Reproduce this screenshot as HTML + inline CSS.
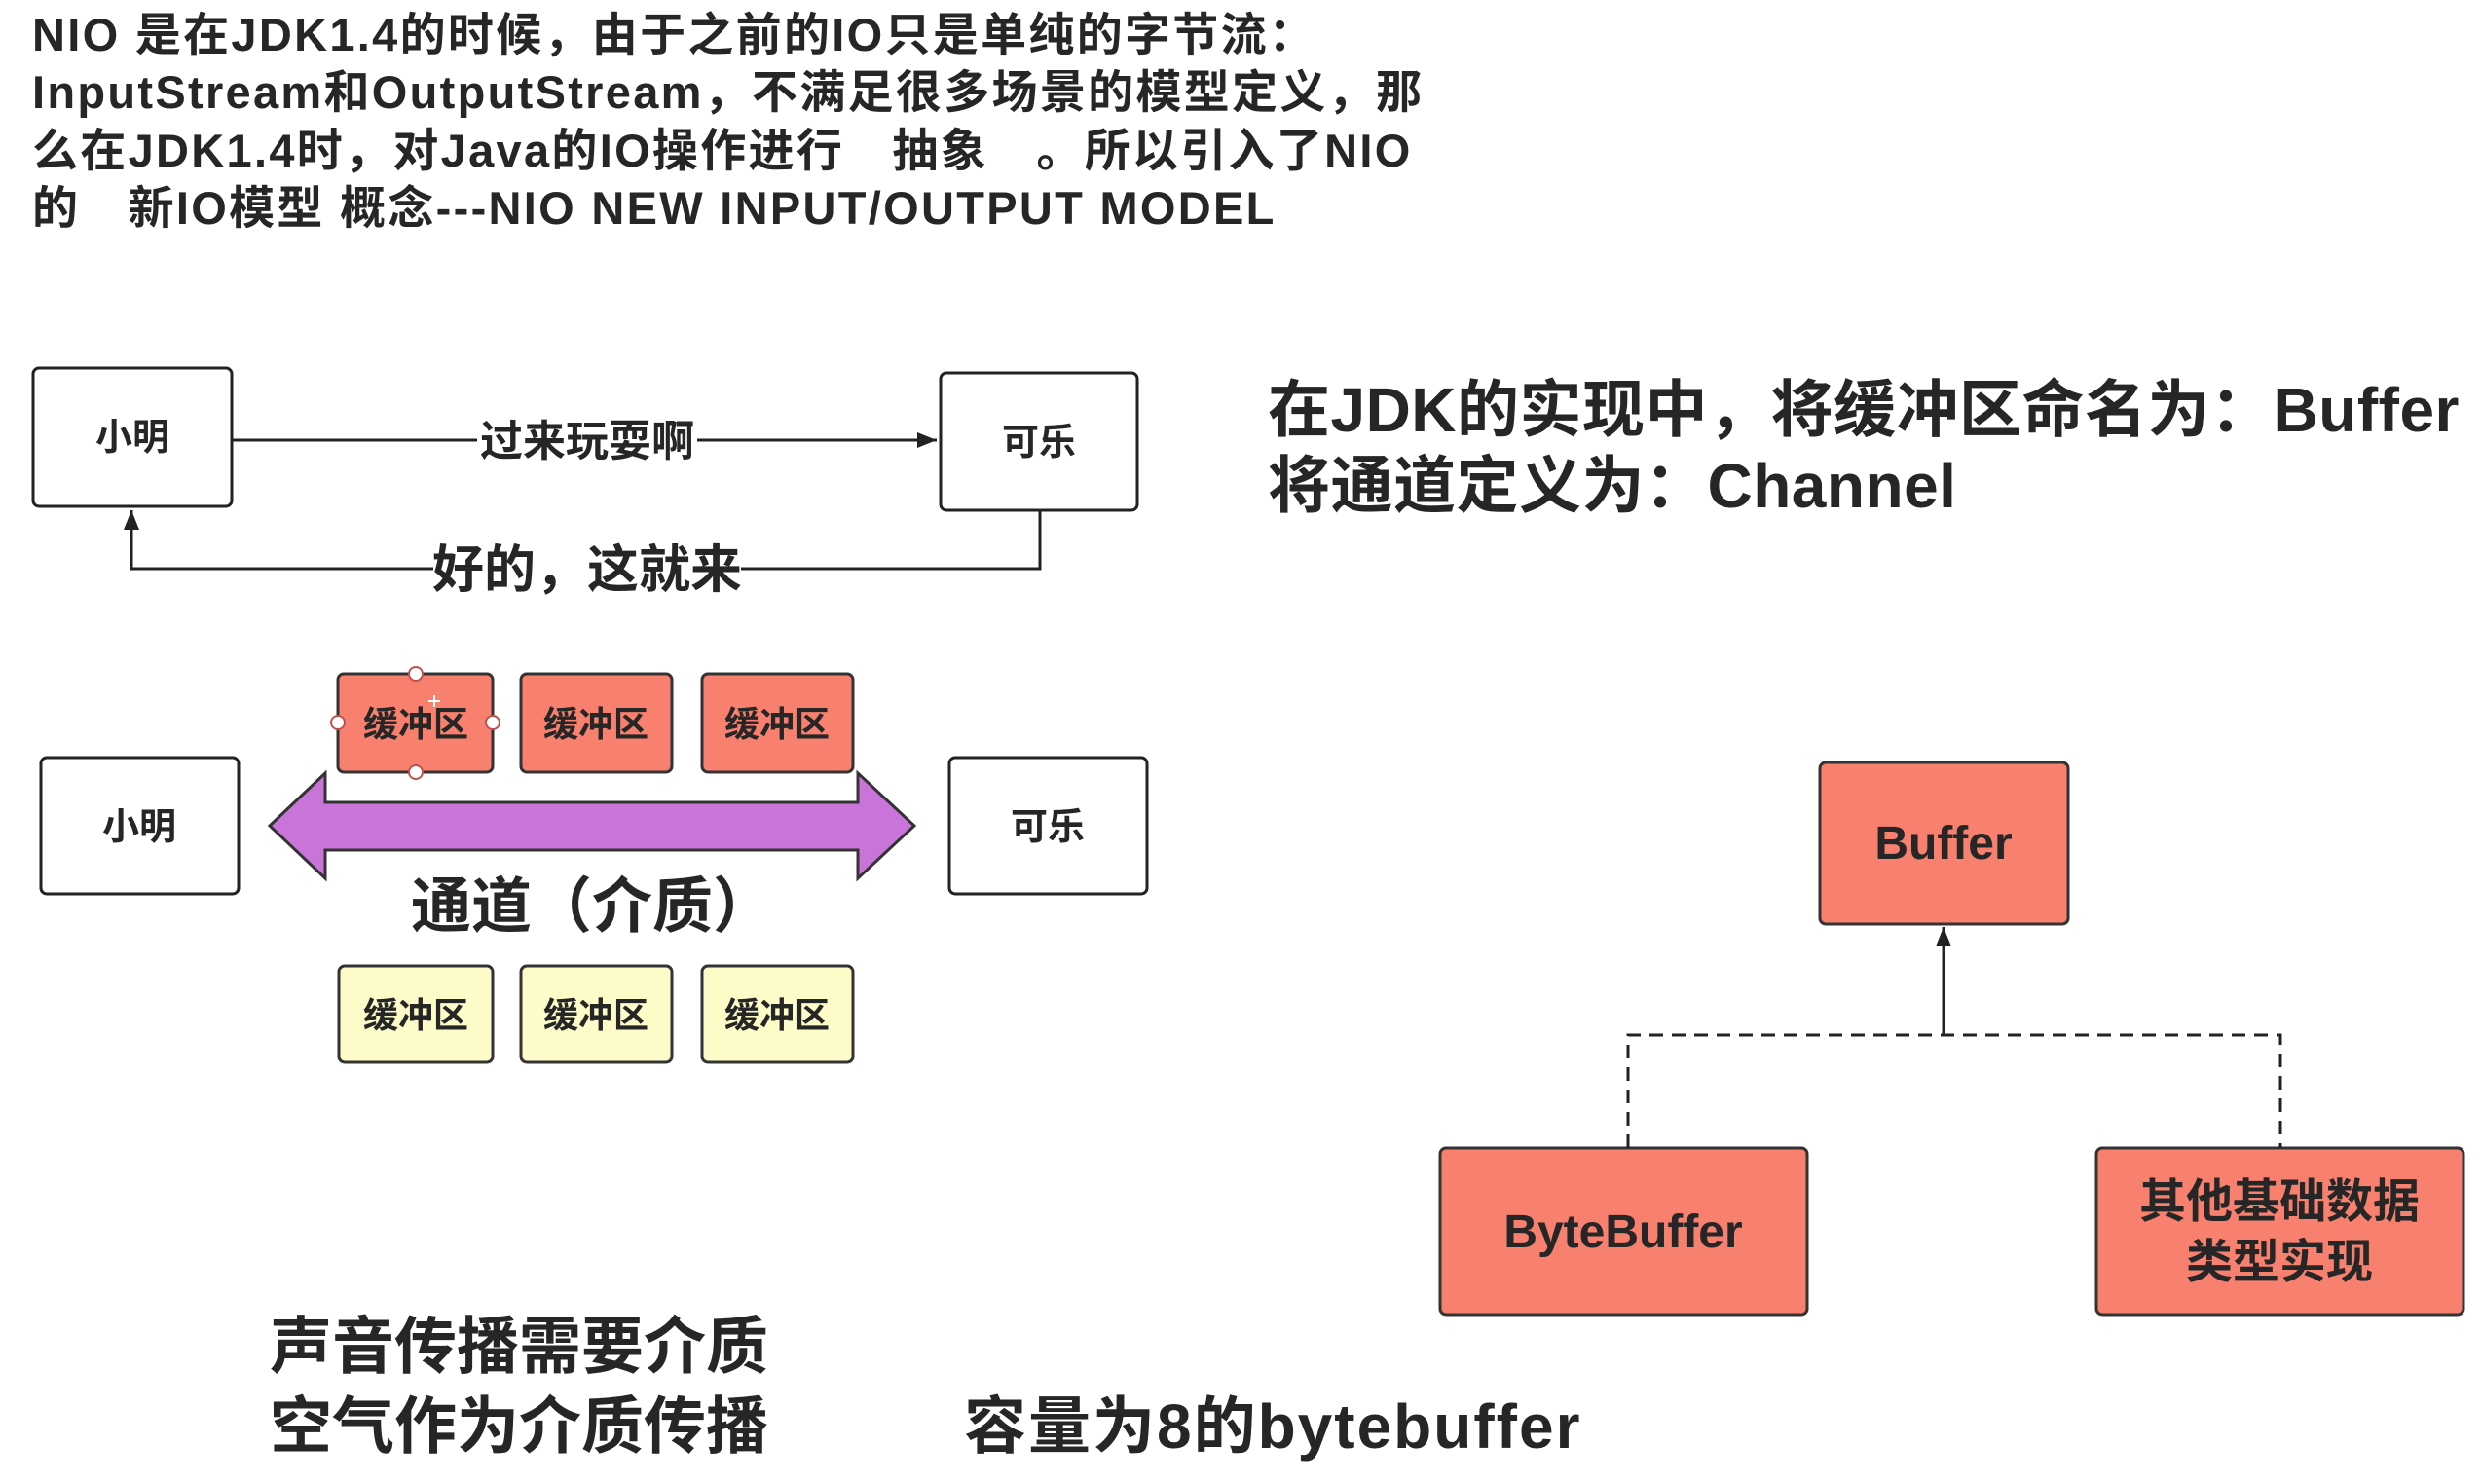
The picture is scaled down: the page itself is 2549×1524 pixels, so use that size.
<!DOCTYPE html>
<html><head><meta charset="utf-8"><style>
html,body{margin:0;padding:0;background:#fff;}
svg{display:block}
text{font-family:"Liberation Sans","Noto Sans CJK SC",sans-serif;font-weight:bold;fill:#262626}
</style></head><body>
<svg width="2549" height="1524" viewBox="0 0 2549 1524" xmlns="http://www.w3.org/2000/svg">
<defs>
<marker id="ah2" markerWidth="22" markerHeight="22" refX="20" refY="8" orient="auto" markerUnits="userSpaceOnUse">
<path d="M0,0 L20,8 L0,16 z" fill="#222"/></marker>
</defs>
<g font-size="47" letter-spacing="2.3">
<text x="33" y="52">NIO 是在JDK1.4的时候，由于之前的IO只是单纯的字节流：</text>
<text x="33" y="111">InputStream和OutputStream，不满足很多场景的模型定义，那</text>
<text x="33" y="171">么在JDK1.4时，对Java的IO操作进行　抽象　。所以引入了NIO</text>
<text x="33" y="230">的　新IO模型  概念---NIO   NEW INPUT/OUTPUT MODEL</text>
</g>
<rect x="34" y="378" width="204" height="142" rx="6" fill="#fff" stroke="#222" stroke-width="3"/>
<text x="136" y="462" font-size="38" text-anchor="middle">小明</text>
<rect x="966" y="383" width="202" height="141" rx="6" fill="#fff" stroke="#222" stroke-width="3"/>
<text x="1067" y="467" font-size="38" text-anchor="middle">可乐</text>
<line x1="238" y1="452" x2="962" y2="452" stroke="#222" stroke-width="3" marker-end="url(#ah2)"/>
<rect x="490" y="425" width="226" height="54" fill="#fff"/>
<text x="603" y="468" font-size="44" text-anchor="middle">过来玩耍啊</text>
<polyline points="1068,524 1068,584 135,584 135,524" fill="none" stroke="#222" stroke-width="3" marker-end="url(#ah2)"/>
<rect x="445" y="555" width="316" height="60" fill="#fff"/>
<text x="603" y="603" font-size="53" text-anchor="middle">好的，这就来</text>
<g stroke="#333" stroke-width="3">
<rect x="347" y="692" width="159" height="101" rx="6" fill="#f7806f"/>
<rect x="535" y="692" width="155" height="101" rx="6" fill="#f7806f"/>
<rect x="721" y="692" width="155" height="101" rx="6" fill="#f7806f"/>
<rect x="348" y="992" width="158" height="99" rx="6" fill="#fdfbc8"/>
<rect x="535" y="992" width="155" height="99" rx="6" fill="#fdfbc8"/>
<rect x="721" y="992" width="155" height="99" rx="6" fill="#fdfbc8"/>
</g>
<g font-size="36" text-anchor="middle">
<text x="427" y="756">缓冲区</text><text x="612" y="756">缓冲区</text><text x="798" y="756">缓冲区</text>
<text x="427" y="1055">缓冲区</text><text x="612" y="1055">缓冲区</text><text x="798" y="1055">缓冲区</text>
</g>
<g fill="#fff" stroke="#c0504d" stroke-width="2">
<circle cx="427" cy="692" r="7"/><circle cx="427" cy="793" r="7"/><circle cx="347" cy="742" r="7"/><circle cx="506" cy="742" r="7"/>
</g>
<path d="M440,720 h12 M446,714 v12" stroke="#fff" stroke-width="2"/>
<rect x="42" y="778" width="203" height="140" rx="6" fill="#fff" stroke="#222" stroke-width="3"/>
<text x="143" y="862" font-size="38" text-anchor="middle">小明</text>
<rect x="975" y="778" width="203" height="140" rx="6" fill="#fff" stroke="#222" stroke-width="3"/>
<text x="1076" y="862" font-size="38" text-anchor="middle">可乐</text>
<polygon points="277,848 334,794 334,824 881,824 881,794 939,848 881,902 881,873 334,873 334,902" fill="#c974d8" stroke="#333" stroke-width="3"/>
<text x="608" y="952" font-size="62" text-anchor="middle">通道（介质）</text>
<text x="277" y="1405" font-size="64">声音传播需要介质</text>
<text x="277" y="1487" font-size="64">空气作为介质传播</text>
<text x="990" y="1487" font-size="64" letter-spacing="2">容量为8的bytebuffer</text>
<text x="1302" y="443" font-size="64" letter-spacing="0.5">在JDK的实现中，将缓冲区命名为：Buffer</text>
<text x="1302" y="521" font-size="64" letter-spacing="0.5">将通道定义为：Channel</text>
<rect x="1869" y="783" width="255" height="166" rx="6" fill="#f7806f" stroke="#333" stroke-width="3"/>
<text x="1996" y="882" font-size="48" text-anchor="middle">Buffer</text>
<rect x="1479" y="1179" width="377" height="171" rx="6" fill="#f7806f" stroke="#333" stroke-width="3"/>
<text x="1667" y="1281" font-size="48" text-anchor="middle">ByteBuffer</text>
<rect x="2153" y="1179" width="377" height="171" rx="6" fill="#f7806f" stroke="#333" stroke-width="3"/>
<text x="2341" y="1250" font-size="48" text-anchor="middle">其他基础数据</text>
<text x="2341" y="1312" font-size="48" text-anchor="middle">类型实现</text>
<line x1="1996" y1="1063" x2="1996" y2="952" stroke="#222" stroke-width="3" marker-end="url(#ah2)"/>
<polyline points="1672,1179 1672,1063 2342,1063 2342,1179" fill="none" stroke="#222" stroke-width="3" stroke-dasharray="14,9"/>
</svg>
</body></html>
